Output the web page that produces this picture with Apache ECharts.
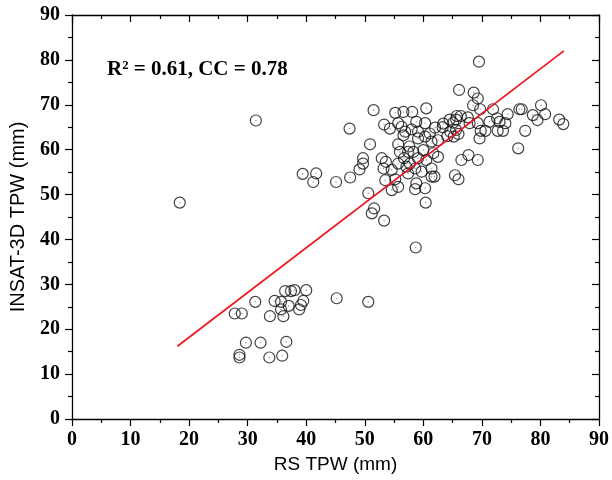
<!DOCTYPE html>
<html>
<head>
<meta charset="utf-8">
<script src="https://cdn.jsdelivr.net/npm/echarts@6/dist/echarts.min.js"></script>
<style>html,body{margin:0;padding:0;background:#fff}#c{width:612px;height:480px}</style>
</head>
<body>
<div id="c"></div>
<script>
// RS TPW (x) and INSAT-3D TPW (y), mm
var rsTPW = [
27.8,29.0,31.3,33.8,34.6,35.7,35.7,36.1,37.0,36.4,37.4,38.0,40.0,39.5,39.1,38.8,
29.7,32.2,36.6,28.6,28.6,33.7,35.9,45.2,50.6,58.7,18.4,31.4,
39.4,41.7,41.2,45.1,47.5,47.4,49.1,49.7,49.7,50.6,51.6,51.2,53.3,50.9,51.5,60.4,
55.2,56.6,58.1,60.5,53.3,54.3,55.7,56.3,56.9,56.6,58.8,60.3,58.0,59.1,59.1,60.3,
61.4,62.5,64.1,63.3,64.5,65.1,62.0,63.4,65.7,64.6,65.2,55.7,56.0,57.4,58.3,60.0,
61.7,62.5,52.9,53.6,56.7,59.1,60.5,53.2,54.6,55.7,57.1,57.7,58.6,61.4,59.7,57.4,
55.2,53.5,61.4,61.9,58.8,54.6,55.7,58.6,60.3,57.6,61.1,
65.4,66.0,66.5,67.7,69.3,66.1,68.6,69.3,68.5,69.7,71.9,69.5,69.6,76.2,76.4,80.1,
78.7,79.5,80.8,83.2,83.9,77.4,74.4,74.0,73.6,72.7,73.0,71.3,70.6,69.8,69.3,72.6,
67.9,67.6,66.4,65.6,65.6,66.0,76.8
];
var insatTPW = [
23.5,23.5,26.1,22.9,26.3,26.1,24.4,22.9,25.2,28.5,28.5,28.7,28.7,26.3,25.4,24.4,
17.0,17.0,17.2,14.3,13.7,13.7,14.1,26.9,26.1,38.2,48.2,66.5,
54.6,54.7,52.8,52.8,53.8,64.7,55.6,56.9,58.1,50.3,46.9,45.8,44.2,61.2,68.8,48.2,
68.2,68.4,68.4,69.2,65.6,64.7,65.9,65.1,64.0,63.2,66.2,65.9,64.5,64.0,62.5,62.9,
61.8,62.1,63.0,65.0,66.7,66.0,64.9,65.8,67.5,64.0,62.9,61.2,59.5,59.5,59.5,59.9,
59.2,58.4,58.1,57.3,58.1,58.1,57.7,55.8,55.5,56.9,56.2,56.9,55.8,55.8,55.1,54.7,
53.4,53.2,54.0,54.0,52.5,51.0,51.7,51.2,51.4,60.7,63.6,
54.3,53.4,57.7,58.8,57.7,73.3,72.7,71.4,69.9,69.0,69.0,79.6,62.5,60.3,69.0,69.9,
67.7,66.6,67.9,66.7,65.7,64.2,67.9,65.9,64.2,64.2,66.2,66.2,64.2,64.2,65.9,67.0,
65.9,67.2,67.5,66.7,64.4,63.5,69.0
];
// regression line end points
var fitX = [18, 84];
var fitY = [16.2, 82.0];
var axisTicks = [0, 10, 20, 30, 40, 50, 60, 70, 80, 90];
var annotation = 'R\u00B2 = 0.61, CC = 0.78';
var xTitle = 'RS TPW (mm)';
var yTitle = 'INSAT-3D TPW (mm)';

var pts = rsTPW.map(function (x, i) { return [x, insatTPW[i]]; });
var fit = fitX.map(function (x, i) { return [x, fitY[i]]; });

var labelFont = { fontFamily: 'Liberation Serif', fontWeight: 'bold', fontSize: 20, color: '#000' };
function mkAxis(opts) {
  var base = {
    type: 'value', min: axisTicks[0], max: axisTicks[axisTicks.length - 1], interval: 10,
    axisLine: { show: true, onZero: false, lineStyle: { color: '#000', width: 1.3 } },
    axisTick: { show: true, length: 7, lineStyle: { color: '#000', width: 1.2 } },
    minorTick: { show: true, splitNumber: 2, length: 4, lineStyle: { color: '#000', width: 1.2 } },
    splitLine: { show: false }
  };
  for (var k in opts) base[k] = opts[k];
  return base;
}

var chart = echarts.init(document.getElementById('c'), null, { renderer: 'canvas' });
chart.setOption({
  animation: false,
  backgroundColor: '#fff',
  grid: { left: 71, right: 12, top: 15, bottom: 61, containLabel: false },
  xAxis: [
    mkAxis({ position: 'bottom',
      axisLabel: Object.assign({ margin: 11 }, labelFont),
      name: xTitle, nameLocation: 'middle', nameGap: 36,
      nameTextStyle: { fontFamily: 'Liberation Sans', fontSize: 19, color: '#000' } }),
    mkAxis({ position: 'top', axisLabel: { show: false },
      axisTick: { show: true, inside: true, length: 7, lineStyle: { color: '#000', width: 1.2 } } })
  ],
  yAxis: [
    mkAxis({ position: 'left',
      axisLabel: Object.assign({ margin: 12 }, labelFont),
      name: yTitle, nameLocation: 'middle', nameGap: 44,
      nameTextStyle: { fontFamily: 'Liberation Sans', fontSize: 20, color: '#000' } }),
    mkAxis({ position: 'right', axisLabel: { show: false },
      axisTick: { show: true, inside: true, length: 7, lineStyle: { color: '#000', width: 1.2 } } })
  ],
  series: [
    {
      type: 'scatter', data: pts, symbol: 'circle', symbolSize: 11,
      itemStyle: { color: 'rgba(255,255,255,0)', borderColor: '#111', borderWidth: 1.2 },
      z: 2
    },
    {
      type: 'scatter', data: pts, symbol: 'circle', symbolSize: 1.6,
      itemStyle: { color: '#888' }, z: 2, silent: true
    },
    {
      type: 'line', data: fit, showSymbol: false, symbol: 'none',
      lineStyle: { color: '#f0141e', width: 1.7 }, z: 3
    }
  ],
  graphic: [{
    type: 'text', left: 107, top: 59,
    style: { text: annotation, font: 'bold 21px "Liberation Serif"', fill: '#000' }
  }]
});
</script>
</body>
</html>
